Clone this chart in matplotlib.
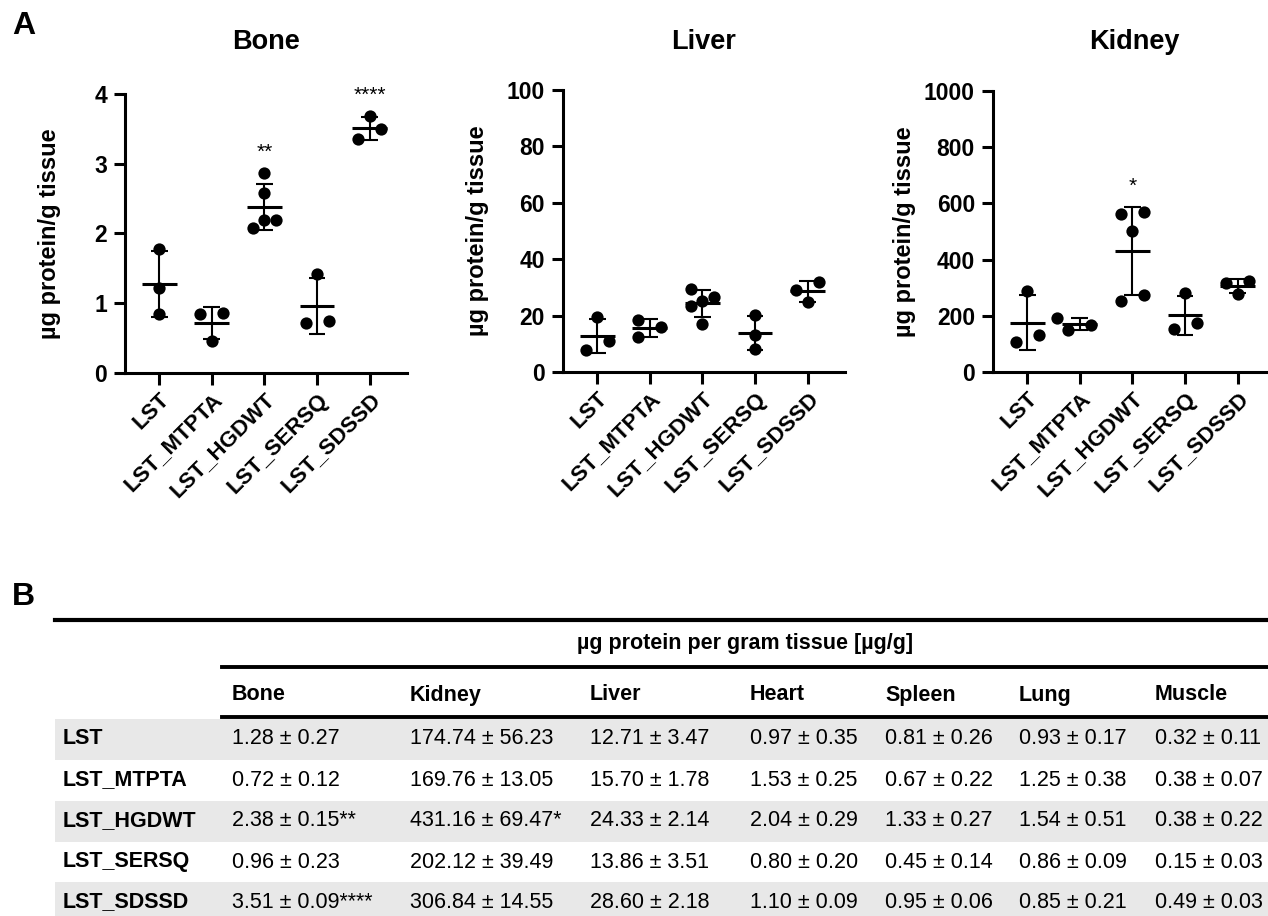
import numpy as np
import matplotlib
matplotlib.use("Agg")
import matplotlib.pyplot as plt
from matplotlib.lines import Line2D
from matplotlib.patches import Rectangle
from matplotlib.transforms import Affine2D

plt.rcParams['font.family'] = ['Liberation Sans', 'DejaVu Sans']

# ---- data ----
groups = ['LST', 'LST_MTPTA', 'LST_HGDWT', 'LST_SERSQ', 'LST_SDSSD']

# single animals
bone = [[1.78, 1.22, 0.84],
        [0.86, 0.84, 0.46],
        [2.87, 2.58, 2.19, 2.19, 2.08],
        [1.42, 0.71, 0.75],
        [3.68, 3.50, 3.35]]
liver = [[19.5, 10.9, 7.7],
         [18.6, 16.0, 12.4],
         [29.5, 26.5, 25.3, 23.3, 17.0],
         [20.2, 13.2, 8.2],
         [32.0, 29.0, 24.8]]
kidney = [[287, 131, 106],
          [192, 168, 149],
          [568, 562, 500, 274, 252],
          [281, 173, 152],
          [323, 318, 279]]

bone_stars = ['', '', '**', '', '****']
liver_stars = ['', '', '', '', '']
kidney_stars = ['', '', '*', '', '']

# table B (mean ± SEM)
tissues = ['Bone', 'Kidney', 'Liver', 'Heart', 'Spleen', 'Lung', 'Muscle']
table_mean = [[1.28, 174.74, 12.71, 0.97, 0.81, 0.93, 0.32],
              [0.72, 169.76, 15.70, 1.53, 0.67, 1.25, 0.38],
              [2.38, 431.16, 24.33, 2.04, 1.33, 1.54, 0.38],
              [0.96, 202.12, 13.86, 0.80, 0.45, 0.86, 0.15],
              [3.51, 306.84, 28.60, 1.10, 0.95, 0.85, 0.49]]
table_sem = [[0.27, 56.23, 3.47, 0.35, 0.26, 0.17, 0.11],
             [0.12, 13.05, 1.78, 0.25, 0.22, 0.38, 0.07],
             [0.15, 69.47, 2.14, 0.29, 0.27, 0.51, 0.22],
             [0.23, 39.49, 3.51, 0.20, 0.14, 0.09, 0.03],
             [0.09, 14.55, 2.18, 0.09, 0.06, 0.21, 0.03]]
table_stars = {'Bone': bone_stars, 'Kidney': kidney_stars}

W, H = 1268, 916
fig = plt.figure(figsize=(W / 100, H / 100), dpi=100)
px = Affine2D().scale(1.0 / W, -1.0 / H).translate(0, 1) + fig.transFigure


def swarm(vals, ax, d_px=11.5, row_thr=10.8, hit=13.7):
    # simple GraphPad-like scatter: near-equal values share a row, others dodge
    ppu = abs(ax.transData.transform((0, 1))[1] - ax.transData.transform((0, 0))[1])
    vals = np.asarray(vals, float)
    order = np.argsort(vals)
    rows = []
    for i in order:
        if rows and (vals[i] - vals[rows[-1][0]]) * ppu < row_thr:
            rows[-1].append(i)
        else:
            rows.append([i])
    offs = np.zeros(len(vals))
    placed = []
    for row in rows:
        n = len(row)
        if n == 1:
            i = row[0]
            for c in [0, -1, 1, -2, 2]:
                if all(np.hypot((c - offs[j]) * d_px, (vals[i] - vals[j]) * ppu) >= hit for j in placed):
                    offs[i] = c
                    break
        else:
            step = 2 if n == 2 else 1
            for k, i in enumerate(row):
                offs[i] = (k - (n - 1) / 2) * step
        placed += row
    xppu = abs(ax.transData.transform((1, 0))[0] - ax.transData.transform((0, 0))[0])
    return offs * d_px / xppu


def panel(x0, y_top, y_bot, data, stars, ymax, ystep, title, ylab_off):
    x1 = x0 + 282
    ax = fig.add_axes([x0 / W, 1 - y_bot / H, (x1 - x0) / W, (y_bot - y_top) / H])
    ax.set_xlim(-0.65, 4.71)
    ax.set_ylim(0, ymax)
    for s in ['top', 'right']:
        ax.spines[s].set_visible(False)
    for s in ['left', 'bottom']:
        ax.spines[s].set_linewidth(2.2)
    ax.set_yticks(np.arange(0, ymax + ystep / 2, ystep))
    ax.set_xticks(range(len(groups)))
    ax.set_xticklabels(groups, rotation=45, ha='right', va='top', rotation_mode='anchor')
    ax.tick_params(axis='y', length=8, width=2.2, labelsize=16.5, pad=5)
    ax.tick_params(axis='x', length=8.5, width=2.2, labelsize=16, pad=3)
    for lbl in ax.get_xticklabels() + ax.get_yticklabels():
        lbl.set_fontweight('bold')
    ax.set_ylabel('µg protein/g tissue', fontsize=17, fontweight='bold')
    ax.yaxis.set_label_coords(-ylab_off / (x1 - x0), 0.5)

    for g, vals in enumerate(data):
        vals = np.asarray(vals, float)
        m, sd = vals.mean(), vals.std(ddof=1)
        ax.hlines(m, g - 0.33, g + 0.33, color='black', lw=2.2, zorder=3)
        ax.vlines(g, m - sd, m + sd, color='black', lw=1.5, zorder=3)
        ax.hlines([m - sd, m + sd], g - 0.16, g + 0.16, color='black', lw=1.5, zorder=3)
        ax.scatter(g + swarm(vals, ax), vals, s=78, color='black', zorder=4,
                   linewidths=0, clip_on=False)
        if stars[g]:
            top = max(vals.max(), m + sd)
            ax.annotate(stars[g], (g, top), xytext=(0, 11), textcoords='offset points',
                        ha='center', va='baseline', fontsize=15, annotation_clip=False)
    fig.text((x0 + x1) / 2, 42, title, transform=px, ha='center', va='center',
             fontsize=19.5, fontweight='bold')
    return ax


panel(125, 94, 373, bone, bone_stars, 4, 1, 'Bone', 64)
panel(563, 90, 372, liver, liver_stars, 100, 20, 'Liver', 74)
panel(993, 91, 372, kidney, kidney_stars, 1000, 200, 'Kidney', 77)

fig.text(12, 26, 'A', transform=px, ha='left', va='center', fontsize=23, fontweight='bold')
fig.text(12, 597, 'B', transform=px, ha='left', va='center', fontsize=23, fontweight='bold')

# ---- table B ----
row_y = [739, 780, 821, 862, 902]
col_x = [232, 410, 590, 750, 885, 1019, 1155]
row_h = 41
for r, y in enumerate(row_y):
    if r % 2 == 0:
        fig.add_artist(Rectangle((55, y - row_h / 2), W - 55, row_h, transform=px,
                                 facecolor='#e8e8e8', edgecolor='none', zorder=0))
    fig.text(63, y, groups[r], transform=px, ha='left', va='center',
             fontsize=15.5, fontweight='bold')
    for c, x in enumerate(col_x):
        star = table_stars.get(tissues[c], [''] * 5)[r]
        txt = f'{table_mean[r][c]:.2f} ± {table_sem[r][c]:.2f}{star}'
        fig.text(x, y, txt, transform=px, ha='left', va='center', fontsize=15.5)

for c, x in enumerate(col_x):
    fig.text(x, 695, tissues[c], transform=px, ha='left', va='center',
             fontsize=15.5, fontweight='bold')
fig.text(745, 644, 'µg protein per gram tissue [µg/g]', transform=px, ha='center',
         va='center', fontsize=15.5, fontweight='bold')

fig.add_artist(Line2D([55, W], [620, 620], transform=px, color='black', lw=3))
fig.add_artist(Line2D([222, W], [667, 667], transform=px, color='black', lw=2.8))
fig.add_artist(Line2D([222, W], [717, 717], transform=px, color='black', lw=2.8))

fig.savefig('out.png', dpi=100)
